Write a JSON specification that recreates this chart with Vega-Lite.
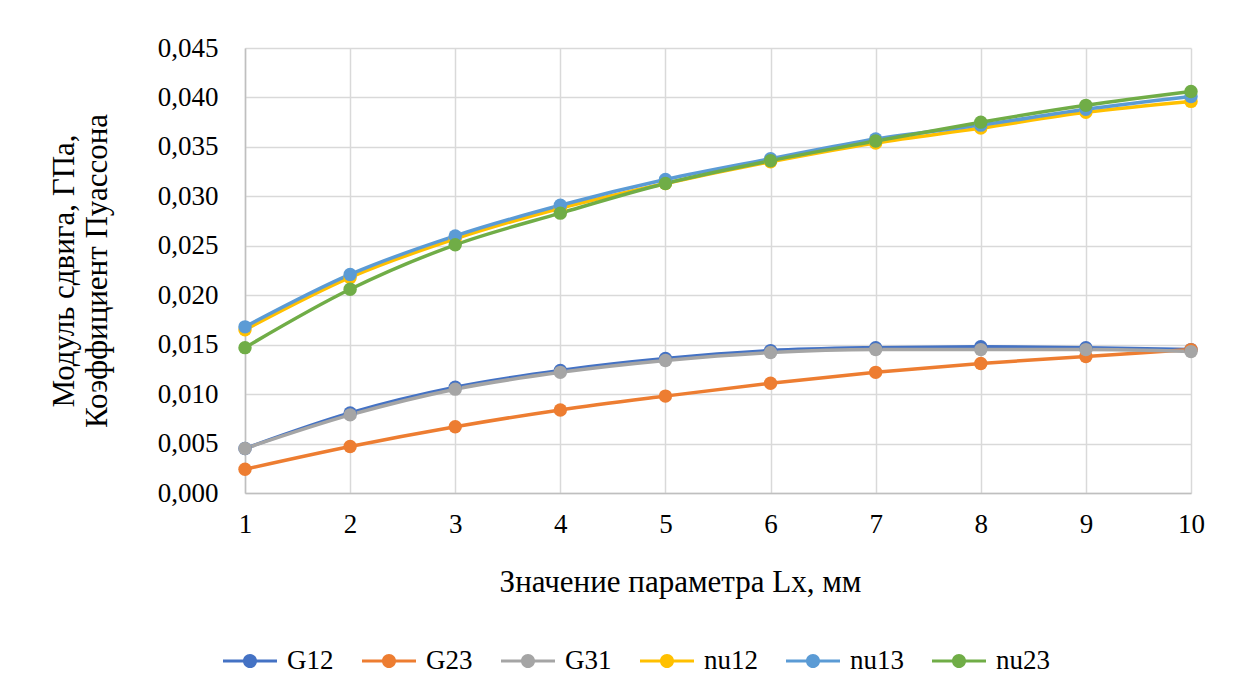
{
  "$schema": "https://vega.github.io/schema/vega-lite/v6.json",
  "width": 946,
  "height": 445,
  "autosize": {"type": "none"},
  "padding": {"left": 245, "top": 48, "right": 49, "bottom": 198},
  "background": "white",
  "config": {
    "font": "Times New Roman, Liberation Serif, serif",
    "view": {"stroke": null},
    "axis": {
      "labelFont": "Times New Roman, Liberation Serif, serif",
      "titleFont": "Times New Roman, Liberation Serif, serif",
      "labelFontSize": 27,
      "titleFontSize": 31,
      "titleFontWeight": "normal",
      "labelColor": "#000000",
      "titleColor": "#000000",
      "gridColor": "#d9d9d9",
      "gridWidth": 1.5,
      "domainColor": "#bfbfbf",
      "domainWidth": 1.5,
      "ticks": false,
      "labelFlush": false
    },
    "legend": {
      "labelFont": "Times New Roman, Liberation Serif, serif",
      "labelFontSize": 27,
      "labelColor": "#000000"
    }
  },
  "data": {
    "values": [
      {"x": 1, "s": "G12", "v": 0.0045}, {"x": 2, "s": "G12", "v": 0.0081}, {"x": 3, "s": "G12", "v": 0.0107}, {"x": 4, "s": "G12", "v": 0.0124}, {"x": 5, "s": "G12", "v": 0.0136},
      {"x": 6, "s": "G12", "v": 0.0144}, {"x": 7, "s": "G12", "v": 0.0147}, {"x": 8, "s": "G12", "v": 0.0148}, {"x": 9, "s": "G12", "v": 0.0147}, {"x": 10, "s": "G12", "v": 0.0145},
      {"x": 1, "s": "G23", "v": 0.0024}, {"x": 2, "s": "G23", "v": 0.0047}, {"x": 3, "s": "G23", "v": 0.0067}, {"x": 4, "s": "G23", "v": 0.0084}, {"x": 5, "s": "G23", "v": 0.0098},
      {"x": 6, "s": "G23", "v": 0.0111}, {"x": 7, "s": "G23", "v": 0.0122}, {"x": 8, "s": "G23", "v": 0.0131}, {"x": 9, "s": "G23", "v": 0.0138}, {"x": 10, "s": "G23", "v": 0.0145},
      {"x": 1, "s": "G31", "v": 0.0045}, {"x": 2, "s": "G31", "v": 0.0079}, {"x": 3, "s": "G31", "v": 0.0105}, {"x": 4, "s": "G31", "v": 0.0122}, {"x": 5, "s": "G31", "v": 0.0134},
      {"x": 6, "s": "G31", "v": 0.0142}, {"x": 7, "s": "G31", "v": 0.0145}, {"x": 8, "s": "G31", "v": 0.0145}, {"x": 9, "s": "G31", "v": 0.0145}, {"x": 10, "s": "G31", "v": 0.0143},
      {"x": 1, "s": "nu12", "v": 0.0165}, {"x": 2, "s": "nu12", "v": 0.0218}, {"x": 3, "s": "nu12", "v": 0.0257}, {"x": 4, "s": "nu12", "v": 0.0288}, {"x": 5, "s": "nu12", "v": 0.0313},
      {"x": 6, "s": "nu12", "v": 0.0335}, {"x": 7, "s": "nu12", "v": 0.0354}, {"x": 8, "s": "nu12", "v": 0.0369}, {"x": 9, "s": "nu12", "v": 0.0385}, {"x": 10, "s": "nu12", "v": 0.0396},
      {"x": 1, "s": "nu13", "v": 0.0168}, {"x": 2, "s": "nu13", "v": 0.0221}, {"x": 3, "s": "nu13", "v": 0.0260}, {"x": 4, "s": "nu13", "v": 0.0291}, {"x": 5, "s": "nu13", "v": 0.0317},
      {"x": 6, "s": "nu13", "v": 0.0338}, {"x": 7, "s": "nu13", "v": 0.0358}, {"x": 8, "s": "nu13", "v": 0.0372}, {"x": 9, "s": "nu13", "v": 0.0388}, {"x": 10, "s": "nu13", "v": 0.0401},
      {"x": 1, "s": "nu23", "v": 0.0147}, {"x": 2, "s": "nu23", "v": 0.0206}, {"x": 3, "s": "nu23", "v": 0.0251}, {"x": 4, "s": "nu23", "v": 0.0283}, {"x": 5, "s": "nu23", "v": 0.0313},
      {"x": 6, "s": "nu23", "v": 0.0336}, {"x": 7, "s": "nu23", "v": 0.0356}, {"x": 8, "s": "nu23", "v": 0.0375}, {"x": 9, "s": "nu23", "v": 0.0392}, {"x": 10, "s": "nu23", "v": 0.0406}
    ]
  },
  "encoding": {
    "x": {
      "field": "x", "type": "quantitative",
      "scale": {"domain": [1, 10], "nice": false, "zero": false},
      "axis": {
        "values": [1, 2, 3, 4, 5, 6, 7, 8, 9, 10],
        "format": "d",
        "labelFont": "Times New Roman, Liberation Serif, serif",
        "labelFontSize": 27,
        "labelFlush": false,
        "labelPadding": 18,
        "title": "Значение параметра Lx, мм",
        "titlePadding": 30,
        "titleX": 435
      }
    },
    "y": {
      "field": "v", "type": "quantitative",
      "scale": {"domain": [0, 0.045], "nice": false},
      "axis": {
        "values": [0, 0.005, 0.01, 0.015, 0.02, 0.025, 0.03, 0.035, 0.04, 0.045],
        "labelExpr": "replace(format(datum.value, '.3f'), '.', ',')",
        "labelFont": "Times New Roman, Liberation Serif, serif",
        "labelFontSize": 27,
        "labelPadding": 27,
        "title": ["Модуль сдвига, ГПа,", "Коэффициент Пуассона"],
        "titlePadding": 44,
        "titleLineHeight": 33
      }
    },
    "color": {
      "field": "s", "type": "nominal",
      "scale": {
        "domain": ["G12", "G23", "G31", "nu12", "nu13", "nu23"],
        "range": ["#4472C4", "#ED7D31", "#A5A5A5", "#FFC000", "#5B9BD5", "#70AD47"]
      },
      "legend": {
        "title": null,
        "orient": "none",
        "direction": "horizontal",
        "legendX": -22,
        "legendY": 586,
        "labelFont": "Times New Roman, Liberation Serif, serif",
        "labelFontSize": 27,
        "symbolType": "M-1,-0.056L1,-0.056L1,0.056L-1,0.056Z M0.26,0A0.26,0.26,0,1,1,-0.26,0A0.26,0.26,0,1,1,0.26,0Z",
        "symbolSize": 2916,
        "symbolStrokeWidth": 0,
        "labelOffset": 10,
        "columnPadding": 28
      }
    }
  },
  "layer": [
    {"mark": {"type": "line", "strokeWidth": 3.5, "interpolate": "monotone"}},
    {"mark": {"type": "point", "filled": true, "opacity": 1, "size": 180}}
  ]
}
